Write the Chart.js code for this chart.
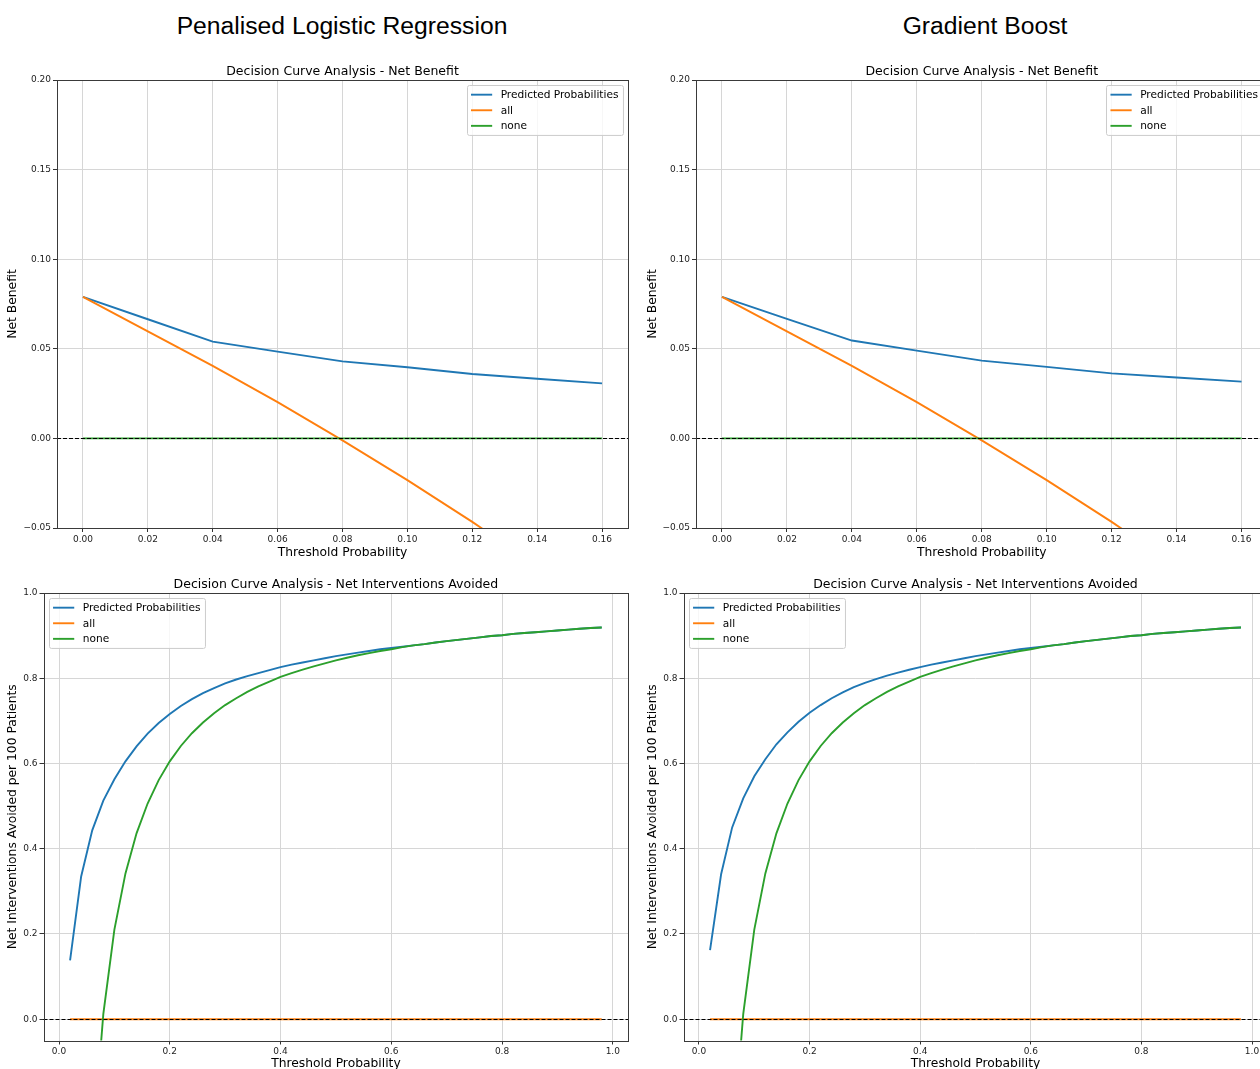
<!DOCTYPE html>
<html lang="en">
<head>
<meta charset="UTF-8" />
<script src="https://cdn.jsdelivr.net/npm/chart.js@4.4.1/dist/chart.umd.min.js"></script>
<title>Decision Curve Analysis</title>
<style>
  html, body { margin: 0; padding: 0; background: #fff; overflow: hidden; }
  body { width: 1260px; height: 1069px; position: relative; }
  .suptitle { position: absolute; top: 13px; line-height: 25px; font-family: "Liberation Sans", Arial, sans-serif;
              font-size: 24.7px; color: #000; transform: translateX(-50%); white-space: nowrap; }
  canvas { position: absolute; }
</style>
</head>
<body>
<div class="suptitle" style="left:342px">Penalised Logistic Regression</div>
<div class="suptitle" style="left:985px">Gradient Boost</div>
<canvas id="nbLr" width="640" height="512" style="left:0;top:50px"></canvas>
<canvas id="nbGb" width="640" height="512" style="left:640px;top:50px"></canvas>
<canvas id="niaLr" width="640" height="512" style="left:0;top:560px"></canvas>
<canvas id="niaGb" width="640" height="512" style="left:640px;top:560px"></canvas>
<script>
// net benefit panels
const nbThresholds = [0.00, 0.02, 0.04, 0.06, 0.08, 0.10, 0.12, 0.14, 0.16];
const nbModelLr = [0.079, 0.0665, 0.0540, 0.0484, 0.0430, 0.0397, 0.0359, 0.0333, 0.0307];
const nbModelGb = [0.079, 0.0667, 0.0546, 0.0490, 0.0434, 0.0399, 0.0363, 0.0340, 0.0317];
const nbAll = [0.079, 0.0597, 0.0405, 0.0202, -0.0011, -0.0233, -0.0466, -0.0711, -0.0964];
const nbNone = [0, 0, 0, 0, 0, 0, 0, 0, 0];
const nbXTicks = [0.00, 0.02, 0.04, 0.06, 0.08, 0.10, 0.12, 0.14, 0.16];
const nbYTicks = [-0.05, 0.00, 0.05, 0.10, 0.15, 0.20];

// net interventions avoided panels
const niaThresholds = [0.02, 0.04, 0.06, 0.08, 0.10, 0.12, 0.14, 0.16, 0.18, 0.20,
  0.22, 0.24, 0.26, 0.28, 0.30, 0.32, 0.34, 0.36, 0.38, 0.40,
  0.42, 0.44, 0.46, 0.48, 0.50, 0.52, 0.54, 0.56, 0.58, 0.60,
  0.62, 0.64, 0.66, 0.68, 0.70, 0.72, 0.74, 0.76, 0.78, 0.80,
  0.82, 0.84, 0.86, 0.88, 0.90, 0.92, 0.94, 0.96, 0.98];
const niaModelLr = [0.138, 0.335, 0.443, 0.513, 0.563, 0.605, 0.640, 0.670, 0.695, 0.716,
  0.735, 0.751, 0.765, 0.777, 0.788, 0.797, 0.805, 0.812, 0.819, 0.826,
  0.832, 0.837, 0.842, 0.847, 0.852, 0.856, 0.860, 0.864, 0.868, 0.871,
  0.874, 0.877, 0.880, 0.884, 0.887, 0.890, 0.893, 0.896, 0.899, 0.901,
  0.904, 0.906, 0.908, 0.910, 0.912, 0.914, 0.916, 0.918, 0.919];
const niaModelGb = [0.162, 0.340, 0.450, 0.518, 0.570, 0.610, 0.645, 0.673, 0.698, 0.719,
  0.737, 0.753, 0.767, 0.779, 0.789, 0.798, 0.806, 0.813, 0.820, 0.826,
  0.832, 0.837, 0.842, 0.847, 0.852, 0.856, 0.860, 0.864, 0.868, 0.871,
  0.874, 0.877, 0.880, 0.884, 0.887, 0.890, 0.893, 0.896, 0.899, 0.901,
  0.904, 0.906, 0.908, 0.910, 0.912, 0.914, 0.916, 0.918, 0.919];
const niaAll = [0, 0, 0, 0, 0, 0, 0, 0, 0, 0, 0, 0, 0, 0, 0, 0, 0, 0, 0, 0, 0, 0, 0, 0, 0,
  0, 0, 0, 0, 0, 0, 0, 0, 0, 0, 0, 0, 0, 0, 0, 0, 0, 0, 0, 0, 0, 0, 0, 0];
const niaNone = [-2.95, -0.975, -0.317, 0.012, 0.210, 0.342, 0.436, 0.506, 0.561, 0.605,
  0.641, 0.671, 0.696, 0.718, 0.737, 0.753, 0.768, 0.781, 0.792, 0.803,
  0.812, 0.820, 0.828, 0.835, 0.842, 0.848, 0.854, 0.859, 0.864, 0.868,
  0.873, 0.877, 0.880, 0.884, 0.887, 0.890, 0.893, 0.896, 0.899, 0.901,
  0.904, 0.906, 0.908, 0.910, 0.912, 0.914, 0.916, 0.918, 0.919];
const niaXTicks = [0.0, 0.2, 0.4, 0.6, 0.8, 1.0];
const niaYTicks = [0.0, 0.2, 0.4, 0.6, 0.8, 1.0];

const seriesNames = ['Predicted Probabilities', 'all', 'none'];
const seriesColors = ['#1f77b4', '#ff7f0e', '#2ca02c'];
const FONT = '"DejaVu Sans", sans-serif';

function pts(xs, ys) {
  return xs.map((x, i) => ({ x: x, y: ys[i] }));
}

function fmt(v, digits) {
  const s = Math.abs(v).toFixed(digits);
  return v < -1e-9 ? '\u2212' + s : s;
}

// horizontal dashed line at 0, box spines and a matplotlib-like legend
function decorations(corner) {
  return {
    id: 'decorations',
    afterDatasetsDraw(chart) {
      const ctx = chart.ctx, a = chart.chartArea;
      const y0 = Math.round(chart.scales.y.getPixelForValue(0)) + 0.5;
      ctx.save();
      ctx.strokeStyle = '#000';
      ctx.lineWidth = 1;
      ctx.setLineDash([4, 2]);
      ctx.beginPath();
      ctx.moveTo(a.left, y0);
      ctx.lineTo(a.right, y0);
      ctx.stroke();
      ctx.setLineDash([]);
      ctx.strokeStyle = '#3a3a3a';
      ctx.strokeRect(Math.round(a.left) + 0.5, Math.round(a.top) + 0.5,
        Math.round(a.right) - Math.round(a.left), Math.round(a.bottom) - Math.round(a.top));

      const fs = 10.6;
      ctx.font = fs + 'px ' + FONT;
      const labels = chart.data.datasets.map(d => d.label);
      const textW = Math.max(...labels.map(t => ctx.measureText(t).width));
      const pad = 0.4 * fs, handle = 2 * fs, gap = 0.8 * fs, rowH = 0.97 * fs, spacing = 0.5 * fs;
      const w = pad * 2 + handle + gap + textW;
      const h = pad * 2 + labels.length * rowH + (labels.length - 1) * spacing;
      const x = corner === 'left' ? a.left + 0.5 * fs : a.right - 0.5 * fs - w;
      const y = a.top + 0.5 * fs;
      ctx.fillStyle = 'rgba(255,255,255,0.8)';
      ctx.strokeStyle = '#cccccc';
      ctx.beginPath();
      ctx.roundRect(Math.round(x) + 0.5, Math.round(y) + 0.5, w, h, 2);
      ctx.fill();
      ctx.stroke();
      ctx.textBaseline = 'middle';
      ctx.textAlign = 'left';
      chart.data.datasets.forEach((d, i) => {
        const cy = y + pad + rowH / 2 + i * (rowH + spacing);
        ctx.strokeStyle = d.borderColor;
        ctx.lineWidth = 1.9;
        ctx.beginPath();
        ctx.moveTo(x + pad, cy);
        ctx.lineTo(x + pad + handle, cy);
        ctx.stroke();
        ctx.fillStyle = '#000';
        ctx.fillText(d.label, x + pad + handle + gap, cy + 0.5);
      });
      ctx.restore();
    }
  };
}

function makeChart(id, cfg) {
  const datasets = cfg.series.map((ys, i) => ({
    label: seriesNames[i],
    data: pts(cfg.xs, ys),
    borderColor: seriesColors[i],
    backgroundColor: seriesColors[i],
    borderWidth: 1.9,
    pointRadius: 0,
    tension: 0,
    order: 2 - i
  }));
  const tickFont = { family: FONT, size: 9 };
  const titleFont = { family: FONT, size: 12.3 };
  return new Chart(document.getElementById(id), {
    type: 'line',
    data: { datasets: datasets },
    options: {
      responsive: false,
      animation: false,
      devicePixelRatio: 1,
      layout: { padding: { left: 0, right: cfg.padRight, top: 0, bottom: 0 } },
      plugins: {
        legend: { display: false },
        tooltip: { enabled: false },
        title: {
          display: true,
          text: cfg.title,
          fullSize: false,
          color: '#000',
          font: { family: FONT, size: 12.5, weight: 'normal' },
          padding: { top: cfg.titleTop, bottom: cfg.titleBlock - cfg.titleTop - 15 }
        }
      },
      scales: {
        x: {
          type: 'linear',
          min: cfg.xMin,
          max: cfg.xMax,
          afterBuildTicks: s => { s.ticks = cfg.xTicks.map(v => ({ value: v })); },
          afterFit: s => { s.height = cfg.xHeight; },
          ticks: { callback: v => fmt(v, cfg.xDigits), font: tickFont, color: '#222',
                   padding: 2, autoSkip: false, maxRotation: 0 },
          grid: { color: '#d6d6d6', lineWidth: 1, tickLength: 4, tickColor: '#333' },
          border: { display: false },
          title: { display: true, text: 'Threshold Probability', color: '#000', font: titleFont,
                   padding: { top: 0, bottom: cfg.xTitlePad } }
        },
        y: {
          type: 'linear',
          min: cfg.yMin,
          max: cfg.yMax,
          afterBuildTicks: s => { s.ticks = cfg.yTicks.map(v => ({ value: v })); },
          afterFit: s => { s.width = cfg.yWidth; },
          ticks: { callback: v => fmt(v, cfg.yDigits), font: tickFont, color: '#222', padding: 2 },
          grid: { color: '#d6d6d6', lineWidth: 1, tickLength: 4, tickColor: '#333' },
          border: { display: false },
          title: { display: true, text: cfg.yTitle, color: '#000', font: titleFont,
                   padding: { top: 5.6, bottom: 0 } }
        }
      }
    },
    plugins: [decorations(cfg.corner)]
  });
}

const nbBase = {
  xs: nbThresholds, xMin: -0.008, xMax: 0.168, yMin: -0.05, yMax: 0.20,
  xTicks: nbXTicks, yTicks: nbYTicks, xDigits: 2, yDigits: 2,
  title: 'Decision Curve Analysis - Net Benefit', yTitle: 'Net Benefit',
  titleTop: 14.5, titleBlock: 30, xHeight: 34, xTitlePad: 1.6, corner: 'right'
};
const niaBase = {
  xs: niaThresholds, xMin: -0.028, xMax: 1.028, yMin: -0.05, yMax: 1.0,
  xTicks: niaXTicks, yTicks: niaYTicks, xDigits: 1, yDigits: 1,
  title: 'Decision Curve Analysis - Net Interventions Avoided',
  yTitle: 'Net Interventions Avoided per 100 Patients',
  titleTop: 17.5, titleBlock: 33, xHeight: 31.5, xTitlePad: 1, corner: 'left'
};

makeChart('nbLr', Object.assign({}, nbBase, { series: [nbModelLr, nbAll, nbNone], yWidth: 57, padRight: 12 }));
makeChart('nbGb', Object.assign({}, nbBase, { series: [nbModelGb, nbAll, nbNone], yWidth: 56, padRight: 12.5 }));
makeChart('niaLr', Object.assign({}, niaBase, { series: [niaModelLr, niaAll, niaNone], yWidth: 43.5, padRight: 11.7 }));
makeChart('niaGb', Object.assign({}, niaBase, { series: [niaModelGb, niaAll, niaNone], yWidth: 43.5, padRight: 12.5 }));
</script>
</body>
</html>
